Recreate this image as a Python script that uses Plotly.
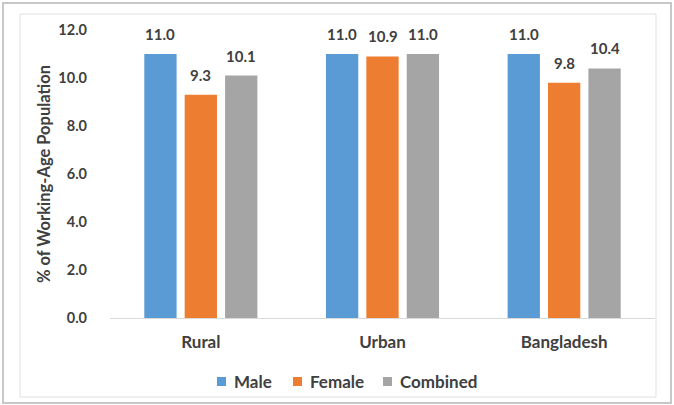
import plotly.graph_objects as go

# Share of working-age population by area and sex
areas = ["Rural", "Urban", "Bangladesh"]
male = [11.0, 11.0, 11.0]
female = [9.3, 10.9, 9.8]
combined = [10.1, 11.0, 10.4]

series = [
    ("Male", male, "#5B9BD5"),
    ("Female", female, "#ED7D31"),
    ("Combined", combined, "#A5A5A5"),
]

FONT = "Lato"
TXT = "#404040"
BARGAP = 0.333

fig = go.Figure()
for name, vals, color in series:
    fig.add_trace(go.Bar(
        name=name,
        x=areas,
        y=vals,
        marker=dict(color=color, line=dict(width=0)),
        showlegend=False,
    ))

# plot-area geometry in pixels, used to place the frame and legend
L, R, T, B = 110, 19, 30, 87
W, H = 674, 405
pw, ph = W - L - R, H - T - B


def px_x(x):
    return (x - L) / pw


def px_y(y):
    return (H - B - y) / ph


# value labels above each bar, positioned on the category axis
slot = (1 - BARGAP) / len(series)
annotations = []
for k, (name, vals, color) in enumerate(series):
    off = (k - (len(series) - 1) / 2) * slot
    for i, v in enumerate(vals):
        annotations.append(dict(
            x=i + off, y=v, xref="x", yref="y",
            text=f"{v:.1f}", showarrow=False,
            yanchor="bottom", yshift=9,
            font=dict(family=FONT, size=15, color=TXT, weight="bold"),
        ))

# legend: small square swatches followed by the series name
shapes = []
legend_left = [217, 293, 383]
for (name, vals, color), lx in zip(series, legend_left):
    shapes.append(dict(
        type="rect", xref="paper", yref="paper",
        x0=px_x(lx), x1=px_x(lx + 9), y0=px_y(386), y1=px_y(377),
        fillcolor=color, line=dict(width=0),
    ))
    annotations.append(dict(
        x=px_x(lx + 15), y=px_y(381), xref="paper", yref="paper",
        text=name, showarrow=False, xanchor="left", yanchor="middle",
        font=dict(family=FONT, size=17, color=TXT, weight="bold"),
    ))

shapes += [
    dict(type="rect", xref="paper", yref="paper",
         x0=px_x(3), x1=px_x(671), y0=px_y(403), y1=px_y(3),
         line=dict(color="#C8C8C8", width=2), layer="below"),
    dict(type="rect", xref="paper", yref="paper",
         x0=px_x(20), x1=px_x(656), y0=px_y(397), y1=px_y(14),
         line=dict(color="#E0E0E0", width=1), layer="below"),
]

fig.update_layout(
    width=W,
    height=H,
    margin=dict(l=L, r=R, t=T, b=B),
    paper_bgcolor="white",
    plot_bgcolor="white",
    barmode="group",
    bargap=BARGAP,
    bargroupgap=0.2,
    font=dict(family=FONT, color=TXT, size=13, weight="bold"),
    showlegend=False,
    xaxis=dict(
        showline=True,
        linecolor="#D9D9D9",
        linewidth=1,
        ticks="",
        ticklabelstandoff=9,
        tickfont=dict(family=FONT, size=17, color=TXT, weight="bold"),
    ),
    yaxis=dict(
        range=[0, 12],
        dtick=2,
        tickformat=".1f",
        showgrid=False,
        zeroline=False,
        showline=False,
        ticklabelstandoff=22,
        tickfont=dict(family=FONT, size=14.5, color=TXT, weight="bold"),
        title=dict(
            text="% of Working-Age Population",
            font=dict(family=FONT, size=16.5, color=TXT, weight="bold"),
            standoff=3,
        ),
    ),
    annotations=annotations,
    shapes=shapes,
)

fig.write_html("out.html")
